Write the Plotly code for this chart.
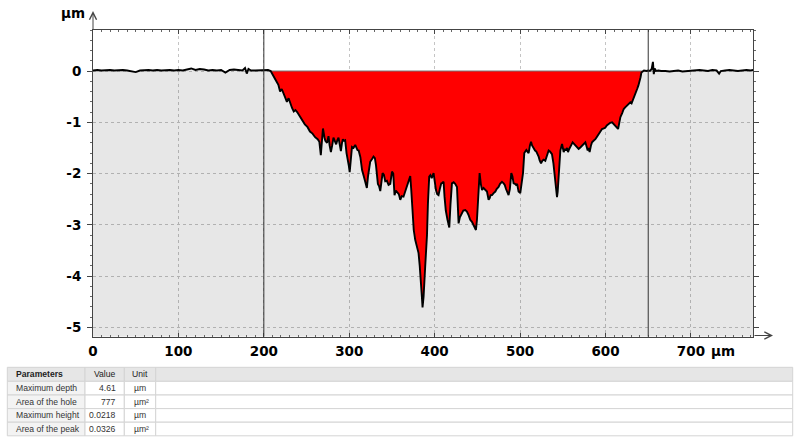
import plotly.graph_objects as go

# ---------------- data (µm) ----------------
LEFT_X = [0, 5, 10, 15, 20, 25, 30, 35, 40, 45, 50, 55, 60, 65, 70, 75, 80, 85, 90, 95,
          100, 105, 110, 115, 120, 125, 130, 135, 140, 145, 150, 155, 160, 165, 170, 175,
          178, 180, 182, 185, 190, 195, 200, 205]
LEFT_Y = [0.01, 0.02, 0.01, 0.02, 0.02, 0.01, 0.02, 0.02, 0.01, -0.01, -0.02, 0.01, 0.02, 0.02,
          0.01, 0.02, 0.01, 0.02, 0.02, 0.01, 0.02, 0.01, 0.03, 0.05, 0.02, 0.04, 0.03, 0.01,
          0.02, 0.01, 0.02, -0.03, 0.02, 0.03, 0.02, 0.01, 0.06, -0.05, 0.04, 0.01, 0.01, 0.01,
          0.01, 0.02]

HOLE_X = [208, 211, 213, 215, 217, 219, 221, 223, 225, 227, 229, 231, 233, 235, 237, 239, 242,
          245, 248, 251, 254, 257, 260, 263, 265, 266.7, 268, 269.2, 271, 272, 274, 275.7, 277,
          278.5, 280, 281.5, 283, 284.7, 286, 287.4, 289, 290.2, 291.5, 292.5, 294, 295.2,
          296.8, 298, 299.5, 300.5, 302, 303.2, 305, 307, 309.6, 311, 313, 315, 317, 319,
          320.6, 322, 324.5, 326.5, 328.4, 330, 331.3, 333.5, 335, 336.3, 338, 339, 340.5,
          342.1, 344, 346, 348, 350, 351.5, 353, 354.5, 356, 358, 359.7, 361.5, 363.5, 365.5,
          367.5, 369.5, 371.4, 372.5, 374.1, 375.5, 377.2, 379, 381.1, 382.5, 383.9, 385,
          385.8, 387, 388.9, 390.3, 391, 392.1, 393.6, 395, 396.5, 398.7, 400, 401.5, 403,
          404.5, 406, 407.7, 409, 410.4, 411.5, 413, 415, 417.1, 418.5, 420.2, 422.2, 424,
          426.1, 427, 428, 429.5, 431.9, 433.5, 435.8, 437.7, 439.7, 441.6, 443.6, 445.5,
          447.5, 448.3, 449.5, 451.4, 452.6, 454, 455.4, 457.2, 459, 461.2, 463.1, 464.3,
          465.5, 467.1, 469, 471, 472.5, 474.8, 476.5, 478.8, 480.7, 482, 483.5, 484.7, 486.5,
          488, 489.7, 491, 492.4, 494, 495.2, 496.5, 498.2, 500.2, 501.5, 503.4, 504.9, 506,
          507.3, 509, 510, 511.5, 512.8, 514, 515.8, 517.5, 519, 520.5, 521.7, 523, 524.5,
          526, 527.5, 529.5, 531.5, 533.4, 535, 537.3, 539, 540.4, 542, 543.2, 544, 545.1,
          547.1, 549.1, 551, 552.5, 553.8, 555, 556.1, 557.5, 558.8, 560, 561.5, 563, 564.7,
          566.5, 568.5, 570.5, 572.5, 574.5, 576.4, 578, 579.1, 580, 581.4, 583, 584.2, 586,
          588.1, 590, 592, 594, 595.9, 598, 599.8, 601.5, 603.7, 605.5, 607.7, 609.5, 611.5,
          613, 614.7, 616, 617.4, 619.5, 621.3, 623, 625.2, 627, 629.1, 630.5, 631.8, 633,
          634.2, 635.5, 637, 638.5, 639.7, 641, 642, 643.5]
HOLE_Y = [0.0, -0.08, -0.13, -0.21, -0.27, -0.40, -0.35, -0.44, -0.52, -0.60, -0.53, -0.64,
          -0.72, -0.79, -0.76, -0.80, -0.89, -0.96, -1.04, -1.09, -1.18, -1.22, -1.29, -1.33,
          -1.38, -1.64, -1.40, -1.12, -1.30, -1.36, -1.40, -1.27, -1.45, -1.58, -1.45, -1.30,
          -1.36, -1.43, -1.35, -1.30, -1.45, -1.56, -1.40, -1.33, -1.36, -1.35, -1.60, -1.76,
          -1.85, -1.97, -1.70, -1.48, -1.50, -1.44, -1.54, -1.55, -1.68, -1.93, -2.05, -2.18,
          -2.28, -2.05, -1.77, -1.72, -1.67, -1.70, -1.84, -2.20, -2.25, -2.34, -2.10, -1.99,
          -2.02, -2.15, -2.14, -2.22, -2.20, -1.96, -2.00, -2.42, -2.33, -2.36, -2.40, -2.51,
          -2.44, -2.45, -2.35, -2.26, -2.12, -2.05, -2.30, -2.84, -3.10, -3.29, -3.42, -3.55,
          -3.80, -4.07, -4.40, -4.61, -4.40, -3.81, -3.50, -3.20, -2.58, -2.06, -2.03, -2.09,
          -1.99, -2.15, -2.32, -2.40, -2.42, -2.30, -2.19, -2.18, -2.16, -2.45, -2.72, -2.90,
          -3.05, -2.60, -2.19, -2.17, -2.20, -2.26, -2.60, -2.97, -2.85, -2.75, -2.72, -2.71,
          -2.74, -2.81, -2.90, -2.94, -3.00, -3.07, -3.10, -2.90, -2.45, -1.99, -2.20, -2.32,
          -2.28, -2.32, -2.35, -2.51, -2.48, -2.42, -2.42, -2.38, -2.35, -2.30, -2.26, -2.20,
          -2.16, -2.19, -2.22, -2.30, -2.35, -2.42, -2.30, -1.99, -2.05, -2.19, -2.20, -2.22,
          -2.20, -2.35, -2.38, -2.20, -1.99, -1.60, -1.57, -1.54, -1.58, -1.60, -1.45, -1.38,
          -1.45, -1.51, -1.55, -1.57, -1.62, -1.67, -1.75, -1.80, -1.75, -1.73, -1.75, -1.64,
          -1.55, -1.57, -1.62, -1.80, -2.01, -2.30, -2.46, -2.35, -2.07, -1.55, -1.42, -1.58,
          -1.52, -1.55, -1.50, -1.58, -1.52, -1.49, -1.44, -1.39, -1.42, -1.46, -1.50, -1.52,
          -1.49, -1.46, -1.42, -1.39, -1.48, -1.55, -1.50, -1.58, -1.45, -1.39, -1.36, -1.33,
          -1.28, -1.23, -1.18, -1.13, -1.12, -1.10, -1.06, -1.03, -1.01, -1.00, -1.03, -1.07,
          -1.10, -1.13, -1.02, -0.90, -0.82, -0.74, -0.71, -0.68, -0.64, -0.61, -0.63, -0.58,
          -0.53, -0.48, -0.42, -0.35, -0.28, -0.22, -0.12, -0.03, 0.0]

RIGHT_X = [645, 648, 650, 652, 654, 655.5, 656.5, 657.5, 659, 662, 665, 670, 675, 680, 685,
           690, 695, 700, 705, 710, 715, 720, 725, 730, 733, 735, 740, 745, 750, 755, 760,
           765, 770, 773]
RIGHT_Y = [0.01, 0.0, 0.01, 0.0, 0.04, 0.18, -0.06, 0.05, 0.0, 0.01, 0.0, 0.0, -0.01, 0.0,
           0.01, -0.01, 0.0, 0.0, 0.01, 0.02, 0.01, 0.0, 0.02, 0.01, -0.05, 0.0, 0.01, 0.02,
           0.01, 0.0, 0.01, 0.02, 0.01, 0.02]

MARKERS_X = [200, 650]          # vertical cursor lines
X_RANGE = [0, 773]
Y_RANGE = [-5.18, 0.8]
X_TICKS = [0, 100, 200, 300, 400, 500, 600, 700]
Y_TICKS = [0, -1, -2, -3, -4, -5]
Y_TICK_TEXT = ["0", "-1", "-2", "-3", "-4", "-5"]

TABLE_HEADER = ["Parameters", "Value", "Unit"]
TABLE_PARAMS = ["Maximum depth", "Area of the hole", "Maximum height", "Area of the peak"]
TABLE_VALUES = ["4.61", "777", "0.0218", "0.0326"]
TABLE_UNITS = ["µm", "µm²", "µm", "µm²"]

# ---------------- figure ----------------
PROFILE_X = LEFT_X + HOLE_X + RIGHT_X
PROFILE_Y = LEFT_Y + HOLE_Y + RIGHT_Y

W, H = 800, 443
fig = go.Figure()

# grey area under the profile
fig.add_trace(go.Scatter(x=[X_RANGE[0], X_RANGE[1]], y=[Y_RANGE[0], Y_RANGE[0]],
                         mode="lines", line=dict(width=0), hoverinfo="skip", showlegend=False))
fig.add_trace(go.Scatter(x=PROFILE_X, y=PROFILE_Y, mode="lines", line=dict(width=0),
                         fill="tonexty", fillcolor="rgba(0,0,0,0.095)",
                         hoverinfo="skip", showlegend=False))
# red hole area between zero level and profile
fig.add_trace(go.Scatter(x=[HOLE_X[0], HOLE_X[-1]], y=[0, 0], mode="lines",
                         line=dict(color="#777777", width=1), hoverinfo="skip", showlegend=False))
fig.add_trace(go.Scatter(x=HOLE_X, y=HOLE_Y, mode="lines", line=dict(width=0),
                         fill="tonexty", fillcolor="#ff0000", hoverinfo="skip", showlegend=False))
# profile line
fig.add_trace(go.Scatter(x=PROFILE_X, y=PROFILE_Y, mode="lines",
                         line=dict(color="#000000", width=1.9), showlegend=False))

for mx in MARKERS_X:
    fig.add_shape(type="line", x0=mx, x1=mx, xref="x", y0=0, y1=1, yref="y domain",
                  line=dict(color="#333333", width=1), layer="above")

# ---------------- parameter table (drawn with shapes + text) ----------------
COL_EDGES = [7.3, 85, 124.3, 155.7, 792.7]                 # px
ROW_EDGES = [367.3, 381.3, 395, 408.6, 422.2, 435.8]       # px


def px(x):
    return x / W


def py(y):
    return (H - y) / H


LINE_C = "#d4d4d4"
for r in range(len(ROW_EDGES) - 1):
    for c in range(len(COL_EDGES) - 1):
        if r == 0:
            fc = "#e6e6e6"
        elif c == 0:
            fc = "#f3f3f3"
        else:
            fc = "#ffffff"
        fig.add_shape(type="rect", xref="paper", yref="paper",
                      x0=px(COL_EDGES[c]), x1=px(COL_EDGES[c + 1]),
                      y0=py(ROW_EDGES[r + 1]), y1=py(ROW_EDGES[r]),
                      fillcolor=fc, line=dict(color=LINE_C, width=1), layer="below")

tfont = dict(family="Liberation Sans, Arial", size=8.6, color="#333333")
hfont = dict(family="Liberation Sans, Arial", size=8.6, color="#222222")


def row_mid(r):
    return py((ROW_EDGES[r] + ROW_EDGES[r + 1]) / 2)


fig.add_annotation(x=px(COL_EDGES[0] + 6.5), y=row_mid(0), xref="paper", yref="paper",
                   text="<b>%s</b>" % TABLE_HEADER[0], showarrow=False, xanchor="left",
                   yanchor="middle", font=hfont)
for c in (1, 2):
    fig.add_annotation(x=px((COL_EDGES[c] + COL_EDGES[c + 1]) / 2), y=row_mid(0),
                       xref="paper", yref="paper", text=TABLE_HEADER[c], showarrow=False,
                       xanchor="center", yanchor="middle", font=hfont)
for i in range(len(TABLE_PARAMS)):
    r = i + 1
    fig.add_annotation(x=px(COL_EDGES[0] + 6.5), y=row_mid(r), xref="paper", yref="paper",
                       text=TABLE_PARAMS[i], showarrow=False, xanchor="left",
                       yanchor="middle", font=tfont)
    fig.add_annotation(x=px(COL_EDGES[2] - 6), y=row_mid(r), xref="paper", yref="paper",
                       text=TABLE_VALUES[i], showarrow=False, xanchor="right",
                       yanchor="middle", font=tfont)
    fig.add_annotation(x=px(COL_EDGES[2] + 8), y=row_mid(r), xref="paper", yref="paper",
                       text=TABLE_UNITS[i], showarrow=False, xanchor="left",
                       yanchor="middle", font=tfont)

tick_font = dict(family="DejaVu Sans", size=13.5, color="#000000")
fig.update_layout(
    width=W, height=H,
    margin=dict(l=0, r=0, t=0, b=0, autoexpand=False),
    paper_bgcolor="#ffffff", plot_bgcolor="#ffffff",
    showlegend=False,
    xaxis=dict(domain=[93 / W, 753.3 / W], range=X_RANGE, tickvals=X_TICKS,
               ticktext=["<b>%d</b>" % v for v in X_TICKS], automargin=False,
               showgrid=True, gridcolor="#c4c4c4", griddash="3px,3px", gridwidth=1,
               zeroline=False, showline=True, linecolor="#444444", linewidth=1,
               mirror="ticks", ticks="inside", ticklen=4, tickcolor="#444444",
               minor=dict(dtick=10, ticks="inside", ticklen=2, tickcolor="#666666", showgrid=False),
               tickfont=tick_font, ticklabelstandoff=2),
    yaxis=dict(domain=[(H - 336.7) / H, (H - 30) / H], range=Y_RANGE, tickvals=Y_TICKS,
               ticktext=["<b>%s</b>" % t for t in Y_TICK_TEXT], automargin=False,
               showgrid=True, gridcolor="#c4c4c4", griddash="3px,3px", gridwidth=1,
               zeroline=False, showline=True, linecolor="#444444", linewidth=1,
               mirror="ticks", ticks="outside", ticklen=5, tickcolor="#444444",
               minor=dict(dtick=0.2, ticks="outside", ticklen=2, tickcolor="#666666", showgrid=False),
               tickfont=tick_font, ticklabelstandoff=3),
)

# axis arrows and unit labels
fig.add_annotation(x=93 / W, y=(H - 11) / H, xref="paper", yref="paper", text="",
                   showarrow=True, ax=0, ay=20, arrowhead=5, arrowsize=1.4, arrowwidth=1,
                   arrowcolor="#444444")
fig.add_annotation(x=773 / W, y=(H - 335.5) / H, xref="paper", yref="paper", text="",
                   showarrow=True, ax=-20, ay=0, arrowhead=5, arrowsize=1.4, arrowwidth=1,
                   arrowcolor="#444444")
fig.add_annotation(x=72.5 / W, y=(H - 12.5) / H, xref="paper", yref="paper",
                   xanchor="center", yanchor="middle",
                   text="<b>µm</b>", showarrow=False, font=tick_font)
fig.add_annotation(x=722.5 / W, y=(H - 351) / H, xref="paper", yref="paper",
                   xanchor="center", yanchor="middle",
                   text="<b>µm</b>", showarrow=False, font=tick_font)

fig.write_html("out.html", config={"displayModeBar": False},
               post_script="document.body.style.margin='0px';document.body.style.overflow='hidden';")
